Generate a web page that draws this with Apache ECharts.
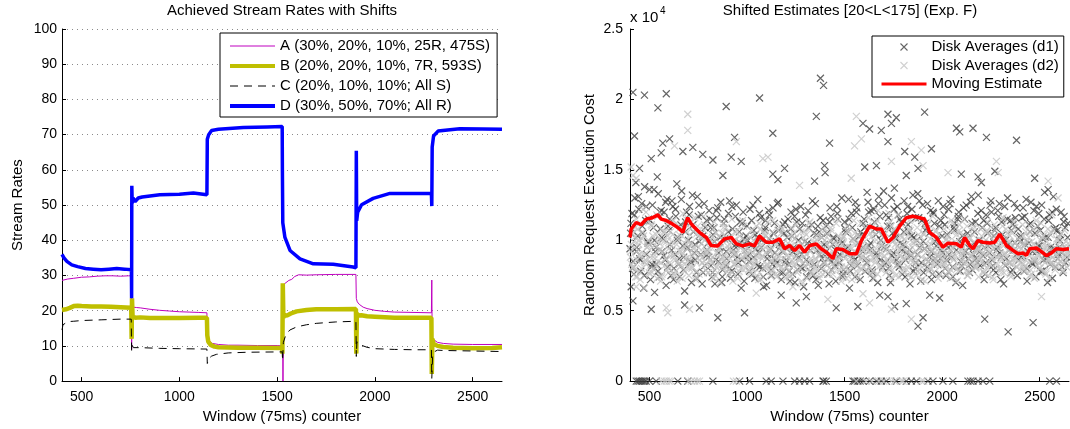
<!DOCTYPE html>
<html>
<head>
<meta charset="utf-8">
<script src="https://cdn.jsdelivr.net/npm/echarts@6/dist/echarts.min.js"></script>
<style>
  html, body { margin: 0; padding: 0; background: #fff; }
  #chart { width: 1070px; height: 429px; }
</style>
</head>
<body>
<div id="chart"></div>
<script>
// ---- Left panel: achieved stream rates (window counter vs. rate) ----
const streamNames = [
  'A (30%, 20%, 10%, 25R, 475S)',
  'B (20%, 20%, 10%, 7R, 593S)',
  'C (20%, 10%, 10%; All S)',
  'D (30%, 50%, 70%; All R)'
];
const xTickValues = [500, 1000, 1500, 2000, 2500];

const streamA = [
  [400,28.6],[410,28.9],[430,29.0],[460,29.2],[500,29.5],[540,29.6],[580,29.8],[620,29.9],[660,29.9],[700,29.8],[740,29.9],[755,29.9],
  [756,9.0],[758,21.6],[762,21.0],[768,21.4],[780,20.9],[800,20.8],[850,20.4],[900,20.1],[950,19.9],[1000,19.7],[1050,19.6],[1100,19.5],[1141,19.4],
  [1143,12.5],[1150,11.3],[1170,10.7],[1200,10.4],[1250,10.2],[1300,10.2],[1400,10.1],[1500,10.1],[1529,10.0],
  [1530,0],[1532,0],[1533,27.0],[1537,27.6],[1545,28.0],[1560,28.6],[1575,28.9],[1590,29.7],[1610,30.2],[1650,30.1],[1700,30.2],[1800,30.3],[1903,30.3],
  [1905,23.5],[1910,22.5],[1920,21.8],[1940,21.0],[1960,20.6],[2000,20.1],[2050,19.8],[2100,19.6],[2200,19.5],[2289,19.4],
  [2291,28.7],[2293,12.5],[2300,11.8],[2320,11.0],[2350,10.7],[2400,10.5],[2500,10.4],[2650,10.4]
];
const streamB = [
  [400,20.2],[420,20.4],[440,20.8],[460,21.3],[480,21.4],[500,21.3],[550,21.2],[600,21.2],[650,21.1],[700,21.0],[754,20.8],
  [756,12.0],[758,23.5],[761,18.3],[766,18.8],[775,18.0],[800,18.1],[850,17.9],[900,17.9],[1000,17.9],[1100,18.0],[1141,18.0],
  [1143,13.0],[1148,11.2],[1160,10.3],[1180,9.8],[1200,9.6],[1300,9.5],[1400,9.5],[1526,9.4],
  [1527,7.8],[1529,27.8],[1532,18.0],[1538,18.8],[1550,18.6],[1570,19.2],[1600,19.8],[1650,20.2],[1700,20.4],[1800,20.4],[1903,20.5],
  [1905,7.8],[1908,19.2],[1915,18.6],[1930,18.7],[1960,18.4],[2000,18.3],[2100,18.0],[2200,18.0],[2289,18.0],
  [2291,2.0],[2294,12.0],[2300,10.6],[2320,10.0],[2350,9.7],[2400,9.5],[2500,9.3],[2600,9.4],[2650,9.6]
];
const streamC = [
  [400,14.5],[405,16.0],[415,16.5],[430,16.9],[460,17.0],[500,17.2],[600,17.4],[700,17.6],[754,17.6],
  [756,8.6],[759,10.2],[765,9.5],[775,9.7],[800,9.5],[900,9.3],[1000,9.2],[1141,9.1],
  [1143,5.0],[1150,6.4],[1165,7.1],[1190,7.6],[1250,8.0],[1350,8.2],[1526,8.3],
  [1528,5.8],[1532,11.0],[1545,13.2],[1565,14.5],[1600,15.4],[1650,16.0],[1700,16.4],[1800,16.8],[1903,17.0],
  [1905,7.0],[1908,11.2],[1915,10.5],[1930,10.2],[1960,9.6],[2000,9.2],[2100,9.0],[2200,8.9],[2289,8.9],
  [2291,0.8],[2295,6.8],[2300,8.2],[2320,8.8],[2350,8.7],[2450,8.6],[2650,8.4]
];
const streamD = [
  [400,36.0],[410,35.0],[425,34.0],[450,33.0],[480,32.5],[520,32.0],[560,31.8],[600,31.6],[640,31.8],[680,32.0],[720,31.8],[755,31.6],
  [756,23.5],[757,55.5],[759,50.5],[763,52.0],[774,51.0],[790,52.0],[810,52.3],[850,52.6],[900,52.9],[1000,53.1],[1072,53.4],[1141,52.9],
  [1143,68.7],[1150,70.0],[1165,71.2],[1200,71.5],[1327,72.0],[1450,72.2],[1526,72.3],
  [1527,60.0],[1529,45.0],[1540,40.8],[1566,37.1],[1617,34.7],[1685,33.3],[1787,33.2],[1889,32.4],[1903,32.2],
  [1905,65.4],[1907,45.5],[1912,48.0],[1932,50.1],[1991,51.9],[2077,53.3],[2200,53.3],[2289,53.3],
  [2291,49.7],[2293,66.5],[2300,69.6],[2323,71.0],[2434,71.7],[2550,71.6],[2650,71.5]
];

// ---- Right panel: shifted estimates (cost in units of 10^4) ----
const diskNames = ['Disk Averages (d1)', 'Disk Averages (d2)', 'Moving Estimate'];

const d1Band = [
  [405,1.12],[415,0.85],[425,1.30],[435,0.95],[445,1.22],[455,0.78],[465,1.05],[475,1.38],[485,0.90],[495,1.15],[505,0.72],[515,1.25],[525,1.00],[535,0.83],[545,1.33],[555,1.08],[565,0.92],[575,1.20],[585,0.68],[595,1.10],
  [605,0.97],[615,1.28],[625,0.80],[635,1.17],[645,1.02],[655,0.74],[665,1.35],[675,0.88],[685,1.13],[695,0.95],[705,1.24],[715,0.70],[725,1.06],[735,0.86],[745,1.31],[755,0.99],[765,1.18],[775,0.77],[785,1.09],[795,0.93],
  [805,1.21],[815,0.82],[825,1.04],[835,0.69],[845,1.16],[855,0.91],[865,1.27],[875,0.79],[885,1.01],[895,0.87],[905,1.19],[915,0.73],[925,1.08],[935,0.96],[945,1.25],[955,0.84],[965,0.98],[975,1.12],[985,0.71],[995,1.03],
  [1005,0.89],[1015,1.22],[1025,0.76],[1035,1.07],[1045,0.94],[1055,1.29],[1065,0.81],[1075,1.00],[1085,0.67],[1095,1.14],[1105,0.90],[1115,1.18],[1125,0.75],[1135,1.05],[1145,0.86],[1155,1.26],[1165,0.97],[1175,0.72],[1185,1.11],[1195,0.84],
  [1205,1.02],[1215,0.78],[1225,1.20],[1235,0.92],[1245,0.70],[1255,1.13],[1265,0.88],[1275,1.24],[1285,0.80],[1295,0.99],[1305,0.74],[1315,1.09],[1325,0.93],[1335,1.28],[1345,0.83],[1355,1.04],[1365,0.68],[1375,1.16],[1385,0.87],[1395,0.97],
  [1405,1.10],[1415,0.76],[1425,1.23],[1435,0.85],[1445,1.01],[1455,0.71],[1465,1.15],[1475,0.90],[1485,1.30],[1495,0.79],[1505,1.06],[1515,0.95],[1525,0.66],[1535,1.19],[1545,0.88],[1555,1.27],[1565,0.82],[1575,1.03],[1585,0.93],[1595,1.12],
  [1605,0.78],[1615,1.34],[1625,0.96],[1635,1.21],[1645,0.73],[1655,1.08],[1665,0.89],[1675,1.31],[1685,1.00],[1695,0.81],[1705,1.25],[1715,0.94],[1725,1.16],[1735,0.70],[1745,1.05],[1755,1.37],[1765,0.86],[1775,1.18],[1785,0.98],[1795,0.76],
  [1805,1.28],[1815,0.91],[1825,1.11],[1835,0.69],[1845,1.22],[1855,1.02],[1865,0.84],[1875,1.33],[1885,0.95],[1895,1.14],[1905,0.77],[1915,1.07],[1925,1.26],[1935,0.88],[1945,0.72],[1955,1.19],[1965,0.99],[1975,0.83],[1985,1.10],[1995,0.93],
  [2005,1.24],[2015,0.80],[2025,1.04],[2035,0.90],[2045,1.29],[2055,0.74],[2065,1.12],[2075,0.97],[2085,1.20],[2095,0.85],[2105,0.68],[2115,1.15],[2125,1.01],[2135,0.87],[2145,1.27],[2155,0.79],[2165,1.06],[2175,0.94],[2185,1.32],[2195,0.82],
  [2205,1.09],[2215,0.72],[2225,1.18],[2235,0.96],[2245,1.25],[2255,0.86],[2265,1.03],[2275,0.77],[2285,1.21],[2295,0.91],[2305,1.13],[2315,0.69],[2325,1.00],[2335,1.30],[2345,0.84],[2355,1.07],[2365,0.93],[2375,1.16],[2385,0.75],[2395,1.02],
  [2405,0.88],[2415,1.23],[2425,0.97],[2435,0.71],[2445,1.11],[2455,1.27],[2465,0.83],[2475,1.05],[2485,0.92],[2495,1.19],[2505,0.78],[2515,1.01],[2525,1.34],[2535,0.87],[2545,1.14],[2555,0.95],[2565,0.73],[2575,1.08],[2585,1.22],[2595,0.90],
  [2605,1.04],[2615,0.81],[2625,1.17],[2635,0.94],[2645,1.12],
  [400,0.94],[410,1.19],[420,0.76],[430,1.41],[440,1.03],[450,0.87],[460,1.26],[470,0.66],[480,1.14],[490,0.99],[500,1.36],[510,0.81],[520,1.09],[530,0.92],[540,1.45],[550,0.74],[560,1.21],[570,1.01],[580,0.86],[590,1.29],
  [600,1.07],[610,0.75],[620,1.24],[630,0.90],[640,1.40],[650,0.83],[660,1.11],[670,0.96],[680,0.64],[690,1.20],[700,1.00],[710,0.85],[720,1.32],[730,0.91],[740,0.77],[750,1.17],[760,1.04],[770,0.69],[780,1.26],[790,0.89],
  [800,0.98],[810,1.15],[820,0.74],[830,1.09],[840,0.86],[850,1.23],[860,0.95],[870,0.70],[880,1.12],[890,0.82],[900,1.01],[910,1.28],[920,0.78],[930,0.93],[940,1.17],[950,0.88],[960,1.06],[970,0.66],[980,1.20],[990,0.97],
  [1000,1.10],[1010,0.85],[1020,0.96],[1030,1.25],[1040,0.73],[1050,1.02],[1060,0.91],[1070,1.16],[1080,0.80],[1090,1.07],[1100,0.68],[1110,1.21],[1120,0.94],[1130,0.83],[1140,1.12],[1150,0.99],[1160,1.27],[1170,0.77],[1180,0.92],[1190,1.05],
  [1200,0.86],[1210,1.15],[1220,0.71],[1230,1.03],[1240,0.95],[1250,1.22],[1260,0.79],[1270,1.08],[1280,0.90],[1290,0.67],[1300,1.18],[1310,0.98],[1320,0.84],[1330,1.11],[1340,0.75],[1350,1.26],[1360,0.93],[1370,1.06],[1380,0.80],[1390,1.14],
  [1400,0.91],[1410,1.05],[1420,0.69],[1430,1.17],[1440,0.97],[1450,0.82],[1460,1.24],[1470,0.88],[1480,1.00],[1490,0.74],[1500,1.13],[1510,0.94],[1520,1.29],[1530,0.78],[1540,1.09],[1550,0.86],[1560,1.20],[1570,0.98],[1580,0.72],[1590,1.04],
  [1600,1.15],[1610,0.87],[1620,1.27],[1630,0.93],[1640,0.79],[1650,1.22],[1660,1.04],[1670,0.70],[1680,1.17],[1690,0.96],[1700,1.35],[1710,0.84],[1720,1.10],[1730,0.75],[1740,1.30],[1750,0.91],[1760,1.02],[1770,1.24],[1780,0.81],[1790,1.13],
  [1800,0.97],[1810,0.74],[1820,1.19],[1830,1.06],[1840,0.89],[1850,1.32],[1860,0.80],[1870,1.00],[1880,1.16],[1890,0.71],[1900,1.25],[1910,0.94],[1920,1.08],[1930,0.85],[1940,1.21],[1950,0.76],[1960,1.12],[1970,0.96],[1980,1.28],[1990,0.87],
  [2000,1.03],[2010,1.18],[2020,0.75],[2030,0.95],[2040,1.26],[2050,0.88],[2060,1.09],[2070,0.70],[2080,1.15],[2090,0.99],[2100,0.82],[2110,1.23],[2120,0.92],[2130,1.05],[2140,0.77],[2150,1.31],[2160,0.90],[2170,1.13],[2180,0.84],[2190,1.00],
  [2200,1.21],[2210,0.89],[2220,0.76],[2230,1.12],[2240,0.98],[2250,1.28],[2260,0.82],[2270,1.07],[2280,0.93],[2290,1.17],[2300,0.72],[2310,1.04],[2320,1.24],[2330,0.87],[2340,0.97],[2350,1.14],[2360,0.79],[2370,1.26],[2380,0.90],[2390,1.08],
  [2400,0.99],[2410,1.16],[2420,0.78],[2430,1.29],[2440,0.92],[2450,1.06],[2460,0.84],[2470,1.21],[2480,0.74],[2490,1.10],[2500,0.96],[2510,1.25],[2520,0.86],[2530,1.02],[2540,0.70],[2550,1.18],[2560,0.93],[2570,1.31],[2580,0.81],[2590,1.07],
  [2600,0.95],[2610,1.20],[2620,0.77],[2630,1.09],[2640,0.88]
];
const d1Core = [
  [403,1.05],[413,0.80],[423,1.18],[433,0.92],[443,1.31],[453,0.86],[463,1.10],[473,0.75],[483,1.24],[493,0.98],[503,1.14],[513,0.83],[523,1.36],[533,0.95],[543,0.78],[553,1.20],[563,1.02],[573,0.89],[583,1.27],[593,0.81],
  [603,1.15],[613,0.93],[623,0.72],[633,1.22],[643,1.00],[653,0.87],[663,1.29],[673,0.79],[683,1.06],[693,0.94],[703,1.18],[713,0.84],[723,1.11],[733,0.97],[743,0.73],[753,1.25],[763,0.90],[773,1.03],[783,0.82],[793,1.14],
  [803,0.88],[813,1.09],[823,0.77],[833,0.99],[843,1.21],[853,0.85],[863,1.02],[873,0.74],[883,1.15],[893,0.92],[903,1.06],[913,0.80],[923,1.24],[933,0.90],[943,0.97],[953,0.76],[963,1.13],[973,0.86],[983,1.01],[993,0.93],
  [1003,1.00],[1013,0.78],[1023,1.14],[1033,0.88],[1043,1.04],[1053,0.82],[1063,1.19],[1073,0.95],[1083,0.74],[1093,1.09],[1103,0.87],[1113,1.01],[1123,0.79],[1133,1.23],[1143,0.91],[1153,0.84],[1163,1.07],[1173,0.96],[1183,0.77],[1193,1.13],
  [1203,0.94],[1213,0.83],[1223,1.08],[1233,0.76],[1243,1.17],[1253,0.89],[1263,1.00],[1273,0.81],[1283,1.12],[1293,0.93],[1303,0.86],[1313,1.21],[1323,0.78],[1333,0.97],[1343,1.05],[1353,0.72],[1363,1.10],[1373,0.90],[1383,1.02],[1393,0.84],
  [1403,0.96],[1413,0.87],[1423,1.13],[1433,0.79],[1443,1.02],[1453,0.93],[1463,1.19],[1473,0.84],[1483,0.98],[1493,0.76],[1503,1.08],[1513,0.90],[1523,1.15],[1533,0.82],[1543,1.01],[1553,0.74],[1563,1.23],[1573,0.89],[1583,1.06],[1593,0.95],
  [1603,1.09],[1613,0.84],[1623,1.20],[1633,0.98],[1643,0.77],[1653,1.13],[1663,0.91],[1673,1.26],[1683,0.86],[1693,1.04],[1703,0.95],[1713,1.18],[1723,0.80],[1733,1.10],[1743,0.89],[1753,1.22],[1763,1.01],[1773,0.83],[1783,1.15],[1793,0.93],
  [1803,1.06],[1813,0.86],[1823,1.24],[1833,0.93],[1843,1.03],[1853,0.78],[1863,1.16],[1873,0.90],[1883,1.28],[1893,0.84],[1903,0.99],[1913,1.12],[1923,0.81],[1933,1.05],[1943,0.92],[1953,1.20],[1963,0.87],[1973,1.01],[1983,0.76],[1993,1.14],
  [2003,0.91],[2013,1.11],[2023,0.86],[2033,1.22],[2043,0.96],[2053,0.81],[2063,1.07],[2073,0.93],[2083,1.17],[2093,0.78],[2103,1.03],[2113,0.89],[2123,1.25],[2133,0.95],[2143,0.83],[2153,1.12],[2163,0.98],[2173,0.87],[2183,1.19],[2193,0.92],
  [2203,0.97],[2213,1.14],[2223,0.84],[2233,1.05],[2243,0.91],[2253,1.20],[2263,0.79],[2273,1.09],[2283,0.95],[2293,1.26],[2303,0.88],[2313,1.00],[2323,0.82],[2333,1.15],[2343,0.93],[2353,0.77],[2363,1.11],[2373,0.98],[2383,1.23],[2393,0.86],
  [2403,1.03],[2413,0.89],[2423,1.17],[2433,0.80],[2443,0.98],[2453,1.12],[2463,0.92],[2473,0.85],[2483,1.24],[2493,0.96],[2503,1.07],[2513,0.78],[2523,1.15],[2533,0.90],[2543,1.02],[2553,0.83],[2563,1.20],[2573,0.94],[2583,1.09],[2593,0.87],
  [2603,1.00],[2613,0.91],[2623,1.13],[2633,0.84],[2643,1.02]
];
const d1Outliers = [
  [415,2.05],[474,2.03],[586,2.04],[543,1.94],[423,1.74],[603,1.72],[568,1.69],[893,1.95],[1064,2.01],[936,1.73],[1132,1.76],[1355,1.88],[1423,1.69],
  [509,1.58],[449,1.51],[560,1.62],[671,1.63],[722,1.66],[773,1.61],[825,1.57],[919,1.59],[970,1.56],[1192,1.51],[1397,1.53],[1400,1.48],[1132,1.47],
  [1158,1.43],[1346,1.42],[876,1.46],[1376,2.15],[1392,2.10],
  [415,0.57],[509,0.51],[406,0.67],[850,0.45],[987,0.485],[1252,0.555],[1457,0.52],[526,0.63],[680,0.54],[756,0.52],[1175,0.61],[1304,0.60],
  [1594,1.83],[1628,1.79],[1722,1.895],[1765,1.87],[1740,1.83],[1910,1.91],[1688,1.78],[1722,1.70],[2073,1.795],[2090,1.77],[2158,1.795],[2227,1.73],
  [2381,1.71],[1603,1.52],[1663,1.53],[1816,1.46],[1859,1.59],[1945,1.65],[2098,1.47],[2184,1.45],[2201,1.41],[2474,1.44],[2543,1.36],[2270,1.49],
  [1876,1.51],[1808,1.63],
  [1568,0.53],[1876,0.39],[1902,0.45],[1756,0.53],[1816,0.55],[1987,0.59],[1936,0.61],[2218,0.44],[2338,0.35],[2466,0.415],[1680,0.61],[1722,0.60]
];
const d1Zeros = [
  [432,0],[441,0],[449,0],[458,0],[466,0],[475,0],[483,0],[500,0],[534,0],[645,0],[696,0],[825,0],[962,0],[1013,0],[1098,0],[1124,0],
  [1184,0],[1244,0],[1269,0],[1295,0],[1321,0],[1389,0],[1393,0],[1406,0],[1543,0],[1551,0],[1568,0],[1580,0],[1594,0],[1628,0],[1663,0],
  [1688,0],[1714,0],[1765,0],[1816,0],[1842,0],[1868,0],[1927,0],[1953,0],[2004,0],[2055,0],[2132,0],[2145,0],[2158,0],[2184,0],[2209,0],
  [2244,0],[2551,0],[2586,0]
];

const d2Band = [
  [402,0.88],[412,1.05],[422,0.79],[432,1.15],[442,0.93],[452,0.72],[462,1.01],[472,0.85],[482,1.20],[492,0.96],[502,0.76],[512,1.10],[522,0.90],[532,0.82],[542,1.17],[552,0.98],[562,0.74],[572,1.06],[582,0.87],[592,1.12],
  [602,0.80],[612,0.99],[622,1.14],[632,0.86],[642,0.71],[652,1.04],[662,0.92],[672,1.19],[682,0.83],[692,0.97],[702,0.75],[712,1.08],[722,0.89],[732,1.16],[742,0.78],[752,0.95],[762,1.02],[772,0.84],[782,1.11],[792,0.91],
  [802,0.77],[812,1.00],[822,0.88],[832,1.13],[842,0.81],[852,0.94],[862,0.70],[872,1.05],[882,0.86],[892,1.09],[902,0.79],[912,0.97],[922,1.15],[932,0.83],[942,0.91],[952,0.73],[962,1.03],[972,0.87],[982,1.10],[992,0.80],
  [1002,0.95],[1012,0.84],[1022,1.07],[1032,0.76],[1042,0.99],[1052,0.89],[1062,1.12],[1072,0.72],[1082,0.93],[1092,1.04],[1102,0.82],[1112,0.97],[1122,0.78],[1132,1.14],[1142,0.88],[1152,0.74],[1162,1.01],[1172,0.85],[1182,1.08],[1192,0.92],
  [1202,0.81],[1212,1.03],[1222,0.75],[1232,0.96],[1242,0.87],[1252,1.11],[1262,0.79],[1272,0.94],[1282,0.69],[1292,1.06],[1302,0.90],[1312,0.83],[1322,1.13],[1332,0.77],[1342,0.98],[1352,0.86],[1362,1.04],[1372,0.73],[1382,0.92],[1392,1.09],
  [1402,0.84],[1412,0.97],[1422,0.76],[1432,1.07],[1442,0.89],[1452,0.80],[1462,1.15],[1472,0.93],[1482,0.71],[1492,1.02],[1502,0.87],[1512,1.10],[1522,0.78],[1532,0.95],[1542,0.83],[1552,1.05],[1562,0.90],[1572,0.74],[1582,1.12],[1592,0.88],
  [1602,0.99],[1612,0.79],[1622,1.16],[1632,0.86],[1642,1.03],[1652,0.73],[1662,0.94],[1672,1.21],[1682,0.82],[1692,0.97],[1702,1.08],[1712,0.77],[1722,0.91],[1732,1.13],[1742,0.85],[1752,1.00],[1762,0.75],[1772,1.18],[1782,0.89],[1792,0.96],
  [1802,0.80],[1812,1.06],[1822,0.92],[1832,1.14],[1842,0.74],[1852,0.98],[1862,0.87],[1872,1.09],[1882,0.79],[1892,1.02],[1902,0.93],[1912,0.71],[1922,1.11],[1932,0.85],[1942,0.97],[1952,1.17],[1962,0.82],[1972,0.90],[1982,1.04],[1992,0.76],
  [2002,0.94],[2012,1.08],[2022,0.81],[2032,0.99],[2042,0.73],[2052,1.12],[2062,0.88],[2072,0.96],[2082,0.78],[2092,1.05],[2102,0.91],[2112,1.15],[2122,0.84],[2132,0.75],[2142,1.01],[2152,0.89],[2162,1.10],[2172,0.80],[2182,0.95],[2192,0.86],
  [2202,1.03],[2212,0.77],[2222,0.93],[2232,1.13],[2242,0.83],[2252,0.97],[2262,0.72],[2272,1.07],[2282,0.88],[2292,1.00],[2302,0.79],[2312,1.16],[2322,0.90],[2332,0.85],[2342,1.04],[2352,0.74],[2362,0.96],[2372,1.09],[2382,0.81],[2392,0.92],
  [2402,0.87],[2412,1.11],[2422,0.78],[2432,0.99],[2442,0.84],[2452,1.06],[2462,0.93],[2472,0.73],[2482,1.14],[2492,0.89],[2502,0.80],[2512,1.02],[2522,0.95],[2532,0.76],[2542,1.08],[2552,0.86],[2562,1.18],[2572,0.91],[2582,0.82],[2592,1.00],
  [2602,0.85],[2612,1.05],[2622,0.79],[2632,0.94],[2642,0.90],
  [407,0.97],[417,0.81],[427,1.09],[437,0.74],[447,1.00],[457,0.89],[467,1.22],[477,0.84],[487,0.95],[497,1.13],[507,0.78],[517,1.03],[527,0.87],[537,1.18],[547,0.93],[557,0.71],[567,1.07],[577,0.82],[587,0.99],[597,0.77],
  [607,1.06],[617,0.90],[627,0.76],[637,1.12],[647,0.85],[657,1.01],[667,0.73],[677,0.96],[687,1.15],[697,0.88],[707,1.04],[717,0.80],[727,0.94],[737,0.72],[747,1.10],[757,0.86],[767,0.98],[777,1.17],[787,0.79],[797,1.02],
  [807,0.92],[817,0.84],[827,1.08],[837,0.75],[847,0.97],[857,1.03],[867,0.82],[877,1.12],[887,0.89],[897,0.78],[907,1.01],[917,0.93],[927,0.71],[937,1.06],[947,0.86],[957,0.99],[967,0.80],[977,1.14],[987,0.90],[997,0.95],
  [1007,0.79],[1017,1.02],[1027,0.91],[1037,0.83],[1047,1.10],[1057,0.74],[1067,0.96],[1077,0.87],[1087,1.05],[1097,0.80],[1107,1.13],[1117,0.92],[1127,0.85],[1137,1.00],[1147,0.76],[1157,1.07],[1167,0.94],[1177,0.81],[1187,0.98],[1197,0.73],
  [1207,0.95],[1217,0.88],[1227,1.09],[1237,0.82],[1247,1.01],[1257,0.77],[1267,0.91],[1277,1.06],[1287,0.84],[1297,0.99],[1307,0.73],[1317,1.12],[1327,0.87],[1337,0.94],[1347,0.80],[1357,1.03],[1367,0.89],[1377,0.96],[1387,0.76],[1397,1.00],
  [1407,0.78],[1417,1.04],[1427,0.90],[1437,0.83],[1447,0.98],[1457,1.12],[1467,0.86],[1477,0.75],[1487,1.01],[1497,0.94],[1507,0.81],[1517,1.07],[1527,0.88],[1537,0.72],[1547,1.14],[1557,0.97],[1567,0.84],[1577,1.02],[1587,0.79],[1597,0.93],
  [1607,0.87],[1617,1.10],[1627,0.92],[1637,0.76],[1647,1.06],[1657,0.84],[1667,1.14],[1677,0.90],[1687,0.79],[1697,1.02],[1707,0.95],[1717,0.86],[1727,1.19],[1737,0.73],[1747,0.99],[1757,1.08],[1767,0.82],[1777,0.93],[1787,1.12],[1797,0.78],
  [1807,1.01],[1817,0.88],[1827,0.75],[1837,1.07],[1847,0.95],[1857,0.83],[1867,1.15],[1877,0.90],[1887,0.98],[1897,0.72],[1907,1.04],[1917,0.86],[1927,1.11],[1937,0.80],[1947,0.93],[1957,0.77],[1967,1.06],[1977,0.89],[1987,0.97],[1997,0.84],
  [2007,0.87],[2017,0.76],[2027,1.03],[2037,0.93],[2047,1.14],[2057,0.81],[2067,0.99],[2077,0.71],[2087,1.07],[2097,0.89],[2107,0.95],[2117,0.83],[2127,1.10],[2137,0.78],[2147,0.97],[2157,1.04],[2167,0.85],[2177,0.92],[2187,0.74],[2197,1.08],
  [2207,0.91],[2217,0.82],[2227,1.06],[2237,0.75],[2247,0.98],[2257,0.88],[2267,1.11],[2277,0.80],[2287,0.94],[2297,1.02],[2307,0.86],[2317,0.77],[2327,1.08],[2337,0.93],[2347,0.99],[2357,0.83],[2367,1.13],[2377,0.87],[2387,0.96],[2397,0.79],
  [2407,0.94],[2417,1.03],[2427,0.82],[2437,0.90],[2447,1.10],[2457,0.76],[2467,0.97],[2477,0.86],[2487,1.05],[2497,0.80],[2507,1.12],[2517,0.92],[2527,0.84],[2537,0.99],[2547,0.73],[2557,1.06],[2567,0.88],[2577,0.95],[2587,1.01],[2597,0.83],
  [2607,0.92],[2617,0.78],[2627,1.07],[2637,0.86],[2647,0.98]
];
const d2Core = [
  [404,0.92],[414,0.81],[424,1.02],[434,0.86],[444,0.97],[454,0.77],[464,1.06],[474,0.90],[484,0.83],[494,1.00],[504,0.88],[514,0.95],[524,0.79],[534,1.04],[544,0.85],[554,0.93],[564,0.76],[574,0.99],[584,0.87],[594,1.03],
  [604,0.84],[614,0.96],[624,0.89],[634,0.78],[644,1.01],[654,0.92],[664,0.82],[674,1.07],[684,0.87],[694,0.94],[704,0.80],[714,0.98],[724,0.91],[734,0.85],[744,1.05],[754,0.76],[764,0.93],[774,0.88],[784,1.00],[794,0.83],
  [804,0.95],[814,0.86],[824,1.02],[834,0.79],[844,0.91],[854,0.84],[864,0.98],[874,0.88],[884,1.04],[894,0.81],[904,0.93],[914,0.87],[924,0.77],[934,1.00],[944,0.90],[954,0.85],[964,0.96],[974,0.80],[984,0.92],[994,0.89],
  [1004,0.87],[1014,0.93],[1024,0.80],[1034,1.00],[1044,0.85],[1054,0.91],[1064,0.77],[1074,0.97],[1084,0.88],[1094,1.03],[1104,0.83],[1114,0.94],[1124,0.86],[1134,0.79],[1144,0.99],[1154,0.90],[1164,0.82],[1174,1.05],[1184,0.87],[1194,0.95],
  [1204,0.89],[1214,0.78],[1224,0.96],[1234,0.84],[1244,1.01],[1254,0.91],[1264,0.86],[1274,0.80],[1284,0.97],[1294,0.88],[1304,1.04],[1314,0.83],[1324,0.92],[1334,0.76],[1344,0.99],[1354,0.87],[1364,0.94],[1374,0.81],[1384,1.02],[1394,0.85],
  [1404,0.93],[1414,0.86],[1424,1.00],[1434,0.79],[1444,0.90],[1454,0.84],[1464,0.97],[1474,0.88],[1484,0.81],[1494,1.03],[1504,0.92],[1514,0.77],[1524,0.95],[1534,0.87],[1544,1.01],[1554,0.83],[1564,0.91],[1574,0.98],[1584,0.80],[1594,0.89],
  [1604,0.94],[1614,0.85],[1624,1.04],[1634,0.90],[1644,0.78],[1654,0.99],[1664,0.87],[1674,1.06],[1684,0.82],[1694,0.95],[1704,0.89],[1714,1.01],[1724,0.84],[1734,0.92],[1744,0.79],[1754,1.08],[1764,0.88],[1774,0.96],[1784,0.83],[1794,1.02],
  [1804,0.87],[1814,0.97],[1824,0.81],[1834,1.03],[1844,0.90],[1854,0.85],[1864,0.99],[1874,0.78],[1884,0.94],[1894,0.88],[1904,1.05],[1914,0.83],[1924,0.92],[1934,0.96],[1944,0.80],[1954,1.00],[1964,0.86],[1974,0.93],[1984,0.89],[1994,0.82],
  [2004,0.96],[2014,0.84],[2024,1.01],[2034,0.88],[2044,0.79],[2054,0.94],[2064,0.90],[2074,1.04],[2084,0.83],[2094,0.97],[2104,0.87],[2114,0.92],[2124,0.78],[2134,1.02],[2144,0.89],[2154,0.85],[2164,0.99],[2174,0.81],[2184,0.93],[2194,0.88],
  [2204,0.85],[2214,0.98],[2224,0.90],[2234,0.80],[2244,1.03],[2254,0.87],[2264,0.94],[2274,0.83],[2284,1.00],[2294,0.89],[2304,0.77],[2314,0.96],[2324,0.91],[2334,1.05],[2344,0.84],[2354,0.92],[2364,0.86],[2374,0.99],[2384,0.81],[2394,0.95],
  [2404,0.90],[2414,0.83],[2424,0.97],[2434,0.87],[2444,1.02],[2454,0.79],[2464,0.93],[2474,0.88],[2484,0.96],[2494,0.84],[2504,1.00],[2514,0.91],[2524,0.78],[2534,0.95],[2544,0.86],[2554,1.04],[2564,0.82],[2574,0.92],[2584,0.89],[2594,0.97],
  [2604,0.88],[2614,0.94],[2624,0.83],[2634,0.99],[2644,0.91],
  [409,0.83],[419,0.99],[429,0.74],[439,1.08],[449,0.90],[459,0.80],[469,1.03],[479,0.86],[489,0.95],[499,0.77],[509,1.11],[519,0.88],[529,0.97],[539,0.73],[549,1.01],[559,0.84],[569,0.92],[579,1.06],[589,0.79],[599,0.94],
  [609,0.89],[619,1.04],[629,0.75],[639,0.97],[649,0.83],[659,1.09],[669,0.91],[679,0.78],[689,1.00],[699,0.86],[709,1.12],[719,0.81],[729,0.95],[739,0.74],[749,1.03],[759,0.89],[769,0.84],[779,1.07],[789,0.92],[799,0.77],
  [809,0.86],[819,0.98],[829,0.73],[839,1.05],[849,0.88],[859,0.94],[869,0.80],[879,1.09],[889,0.84],[899,0.96],[909,0.76],[919,1.02],[929,0.91],[939,0.83],[949,1.07],[959,0.78],[969,0.95],[979,0.88],[989,1.00],[999,0.82],
  [1009,0.91],[1019,0.77],[1029,1.04],[1039,0.86],[1049,0.95],[1059,0.72],[1069,1.08],[1079,0.89],[1089,0.81],[1099,0.99],[1109,0.93],[1119,0.75],[1129,1.06],[1139,0.84],[1149,0.97],[1159,0.88],[1169,1.10],[1179,0.79],[1189,0.92],[1199,0.85],
  [1209,0.98],[1219,0.74],[1229,0.90],[1239,1.05],[1249,0.83],[1259,0.96],[1269,0.87],[1279,0.71],[1289,1.02],[1299,0.92],[1309,0.79],[1319,1.08],[1329,0.85],[1339,0.95],[1349,0.81],[1359,1.00],[1369,0.76],[1379,0.93],[1389,1.06],[1399,0.88],
  [1409,0.82],[1419,0.95],[1429,1.09],[1439,0.76],[1449,0.91],[1459,0.86],[1469,1.03],[1479,0.79],[1489,0.97],[1499,0.89],[1509,0.73],[1519,1.06],[1529,0.84],[1539,0.99],[1549,0.92],[1559,0.78],[1569,1.04],[1579,0.87],[1589,0.94],[1599,0.81],
  [1609,0.96],[1619,1.07],[1629,0.80],[1639,0.93],[1649,0.87],[1659,1.12],[1669,0.76],[1679,0.98],[1689,0.90],[1699,0.83],[1709,1.05],[1719,0.94],[1729,0.79],[1739,1.10],[1749,0.86],[1759,0.97],[1769,0.91],[1779,0.74],[1789,1.03],[1799,0.88],
  [1809,0.93],[1819,0.79],[1829,1.08],[1839,0.86],[1849,0.99],[1859,0.91],[1869,0.75],[1879,1.04],[1889,0.82],[1899,0.96],[1909,1.10],[1919,0.87],[1929,0.78],[1939,1.01],[1949,0.92],[1959,0.84],[1969,1.07],[1979,0.73],[1989,0.95],[1999,0.90],
  [2009,0.82],[2019,1.00],[2029,0.91],[2039,0.77],[2049,1.06],[2059,0.86],[2069,0.97],[2079,0.80],[2089,1.11],[2099,0.93],[2109,0.84],[2119,1.02],[2129,0.75],[2139,0.96],[2149,0.89],[2159,1.08],[2169,0.81],[2179,0.94],[2189,0.87],[2199,1.00],
  [2209,0.78],[2219,0.95],[2229,1.07],[2239,0.85],[2249,0.92],[2259,0.74],[2269,1.03],[2279,0.88],[2289,0.97],[2299,0.81],[2309,1.10],[2319,0.90],[2329,0.83],[2339,0.99],[2349,0.76],[2359,1.05],[2369,0.87],[2379,0.93],[2389,1.01],[2399,0.84],
  [2409,0.97],[2419,0.80],[2429,1.06],[2439,0.91],[2449,0.75],[2459,0.99],[2469,0.86],[2479,1.09],[2489,0.82],[2499,0.94],[2509,0.88],[2519,1.03],[2529,0.77],[2539,0.96],[2549,0.90],[2559,0.84],[2569,1.07],[2579,0.79],[2589,0.93],[2599,1.02],
  [2609,0.85],[2619,0.97],[2629,0.90],[2639,0.81],[2649,0.95]
];
const d2Outliers = [
  [696,1.895],[696,1.78],[432,1.44],[628,1.67],[1081,1.58],[1107,1.59],[945,1.70],[1269,1.39],[594,0.485],[586,0.52],[705,0.51],[1047,0.625],
  [1414,0.58],[432,0.67],[474,0.66],[1235,0.67],[406,1.52],[415,1.46],
  [1560,1.88],[1586,1.72],[1551,1.67],[1740,1.56],[1842,1.70],[1893,1.64],[1902,1.53],[2278,1.56],[2287,1.48],[2543,1.42],[2594,1.30],[1534,1.44],
  [2030,1.48],[1628,0.555],[1842,0.44],[1740,0.51],[2509,0.60],[1594,0.62]
];
const d2Zeros = [
  [560,0],[575,0],[586,0],[600,0],[611,0],[700,0],[715,0],[731,0],[745,0],[756,0],[930,0],[945,0],
  [1560,0],[1610,0],[1640,0],[1675,0],[1700,0],[1740,0],[1755,0],[1791,0],[1800,0],[1893,0],[1905,0]
];
const movingEstimate = [
  [400,1.02],[406,1.08],[432,1.126],[457,1.11],[483,1.15],[515,1.16],[543,1.18],[560,1.15],[586,1.14],[611,1.12],[635,1.10],[654,1.08],
  [671,1.056],[685,1.12],[696,1.16],[712,1.12],[731,1.09],[756,1.056],[791,1.02],[816,0.963],[850,0.96],[870,0.99],[885,1.01],[919,1.02],
  [945,0.974],[978,0.96],[1013,0.974],[1038,0.96],[1064,1.03],[1098,0.986],[1132,0.986],[1167,1.01],[1192,0.94],[1218,0.963],[1244,0.928],
  [1269,0.963],[1295,0.916],[1321,0.963],[1355,0.974],[1380,0.94],[1406,0.916],[1440,0.87],[1457,0.94],[1491,0.935],[1526,0.904],[1560,0.904],
  [1586,0.998],[1628,1.10],[1663,1.08],[1688,1.08],[1722,0.986],[1748,1.02],[1782,1.10],[1816,1.16],[1850,1.17],[1885,1.16],[1910,1.149],
  [1936,1.056],[1970,1.02],[2004,0.951],[2030,0.979],[2073,0.975],[2098,0.951],[2115,1.02],[2141,0.963],[2158,0.94],[2184,0.998],[2209,0.986],
  [2244,0.98],[2269,0.986],[2295,1.044],[2329,0.963],[2363,0.928],[2389,0.904],[2414,0.91],[2432,0.893],[2449,0.94],[2483,0.945],[2517,0.91],
  [2534,0.89],[2560,0.91],[2586,0.94],[2620,0.935],[2650,0.94]
];

const FONT = '"Liberation Sans", Arial, Helvetica, sans-serif';
const crossSymbol = 'path://M0,0L10,10M10,0L0,10';
const DARK = '#3f3f3f';
const LIGHT = '#c4c4c4';

function xAxisFor(gridIndex) {
  return {
    gridIndex: gridIndex, type: 'value', min: 400, max: 2650,
    name: 'Window (75ms) counter', nameLocation: 'middle', nameGap: 21,
    nameTextStyle: { fontSize: 15, color: '#000', fontFamily: FONT },
    axisLine: { show: true, onZero: false, lineStyle: { color: '#000', width: 1 } },
    axisTick: { show: true, inside: true, length: 4, customValues: xTickValues, lineStyle: { color: '#000' } },
    axisLabel: { customValues: xTickValues, fontSize: 14, color: '#000', margin: 9, fontFamily: FONT,
                 formatter: v => String(v) },
    splitLine: { show: false }
  };
}

const chart = echarts.init(document.getElementById('chart'), null, { renderer: 'canvas' });

const option = {
  animation: false,
  backgroundColor: '#fff',
  textStyle: { fontFamily: FONT },
  title: [
    { text: 'Achieved Stream Rates with Shifts', left: 282, top: 3, textAlign: 'center', padding: 0,
      textStyle: { fontSize: 15, fontWeight: 'normal', color: '#000', fontFamily: FONT } },
    { text: 'Shifted Estimates [20<L<175] (Exp. F)', left: 850, top: 3, textAlign: 'center', padding: 0,
      textStyle: { fontSize: 15, fontWeight: 'normal', color: '#000', fontFamily: FONT } }
  ],
  grid: [
    { left: 62, top: 29, width: 440, height: 357 },
    { left: 630, top: 29, width: 439, height: 357 }
  ],
  xAxis: [xAxisFor(0), xAxisFor(1)],
  yAxis: [
    {
      gridIndex: 0, type: 'value', min: 0, max: 100, interval: 10,
      name: 'Stream Rates', nameLocation: 'middle', nameGap: 37,
      nameTextStyle: { fontSize: 15, color: '#000', fontFamily: FONT },
      axisLine: { show: true, lineStyle: { color: '#000', width: 1 } },
      axisTick: { show: true, inside: true, length: 4, lineStyle: { color: '#000' } },
      axisLabel: { fontSize: 14, color: '#000', margin: 5, fontFamily: FONT },
      splitLine: { show: true, lineStyle: { color: '#8a8a8a', width: 1, type: [1, 4] } }
    },
    {
      gridIndex: 1, type: 'value', min: 0, max: 2.5, interval: 0.5,
      name: 'Random Request Execution Cost', nameLocation: 'middle', nameGap: 33,
      nameTextStyle: { fontSize: 15, color: '#000', fontFamily: FONT },
      axisLine: { show: true, lineStyle: { color: '#000', width: 1 } },
      axisTick: { show: true, inside: true, length: 4, lineStyle: { color: '#000' } },
      axisLabel: { fontSize: 14, color: '#000', margin: 7, fontFamily: FONT,
                   formatter: v => String(v) },
      splitLine: { show: false }
    }
  ],
  legend: [
    {
      orient: 'vertical', left: 220, top: 33, padding: [5, 7, 3, 8],
      itemGap: 4, itemWidth: 45, itemHeight: 14, itemTextGap: 7,
      backgroundColor: '#fff', borderColor: '#000', borderWidth: 1, borderRadius: 0,
      selectedMode: false,
      textStyle: { fontSize: 15, color: '#000', lineHeight: 16, fontFamily: FONT },
      data: [
        { name: streamNames[0], itemStyle: { opacity: 0 }, lineStyle: { width: 1 } },
        { name: streamNames[1], itemStyle: { opacity: 0 }, lineStyle: { width: 4 } },
        { name: streamNames[2], itemStyle: { opacity: 0 }, lineStyle: { width: 1, type: [8, 6] } },
        { name: streamNames[3], itemStyle: { opacity: 0 }, lineStyle: { width: 4 } }
      ]
    },
    {
      orient: 'vertical', left: 872, top: 36, padding: [3, 5, 5, 8],
      itemGap: 2.5, itemWidth: 45, itemHeight: 7, itemTextGap: 5,
      backgroundColor: '#fff', borderColor: '#000', borderWidth: 1, borderRadius: 0,
      selectedMode: false,
      textStyle: { fontSize: 15, color: '#000', lineHeight: 16, fontFamily: FONT },
      data: [
        { name: diskNames[0], itemStyle: { borderWidth: 1.1 } },
        { name: diskNames[1], itemStyle: { borderWidth: 1.1 } },
        { name: diskNames[2], itemStyle: { opacity: 0 }, lineStyle: { width: 3 } }
      ]
    }
  ],
  graphic: [
    { type: 'text', x: 630, y: 10, style: { text: 'x 10', fontSize: 15, fill: '#000', fontFamily: FONT } },
    { type: 'text', x: 660, y: 6, style: { text: '4', fontSize: 10, fill: '#000', fontFamily: FONT } }
  ],
  series: [
    { type: 'line', name: streamNames[0], xAxisIndex: 0, yAxisIndex: 0, data: streamA,
      symbol: 'none', color: '#bf00bf', lineStyle: { color: '#bf00bf', width: 1 } },
    { type: 'line', name: streamNames[1], xAxisIndex: 0, yAxisIndex: 0, data: streamB,
      symbol: 'none', color: '#bfbf00', lineStyle: { color: '#bfbf00', width: 4.5 } },
    { type: 'line', name: streamNames[2], xAxisIndex: 0, yAxisIndex: 0, data: streamC,
      symbol: 'none', color: '#000', lineStyle: { color: '#000', width: 1, type: [8, 6] } },
    { type: 'line', name: streamNames[3], xAxisIndex: 0, yAxisIndex: 0, data: streamD,
      symbol: 'none', color: '#0000ff', lineStyle: { color: '#0000ff', width: 3.5 } },

    { type: 'scatter', name: diskNames[0], xAxisIndex: 1, yAxisIndex: 1,
      data: d1Band.concat(d1Core, d1Outliers, d1Zeros), clip: false,
      symbol: crossSymbol, symbolSize: 7, color: DARK,
      itemStyle: { color: DARK, borderColor: DARK, borderWidth: 1.2 } },
    { type: 'scatter', name: diskNames[1], xAxisIndex: 1, yAxisIndex: 1,
      data: d2Band.concat(d2Core, d2Outliers, d2Zeros), clip: false,
      symbol: crossSymbol, symbolSize: 7, color: LIGHT,
      itemStyle: { color: LIGHT, borderColor: LIGHT, borderWidth: 1.2 } },
    { type: 'line', name: diskNames[2], xAxisIndex: 1, yAxisIndex: 1, data: movingEstimate,
      symbol: 'none', color: '#ff0000', lineStyle: { color: '#ff0000', width: 3.5 } }
  ]
};

chart.setOption(option);
</script>
</body>
</html>
